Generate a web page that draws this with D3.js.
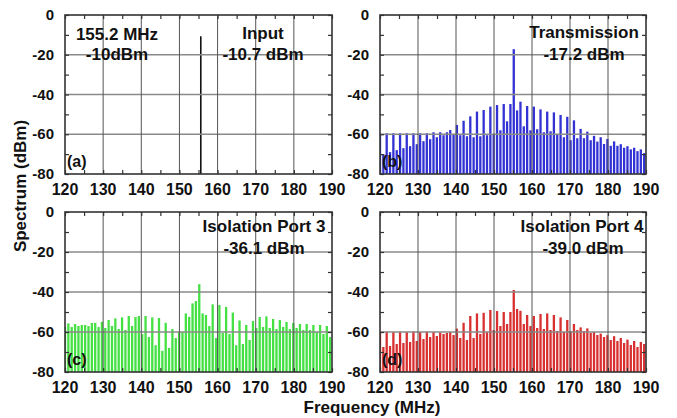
<!DOCTYPE html>
<html>
<head>
<meta charset="utf-8">
<script src="https://cdn.jsdelivr.net/npm/d3@7"></script>
<style>
	body { margin: 0; background: #fff; }
	svg { display: block; }
	text { font-family: Arial, "Liberation Sans", sans-serif; font-weight: bold; fill: #111; }
</style>
</head>
<body>
<svg id="chart" width="677" height="418"></svg>
<script>
	// Comb lines (MHz), shared by the three measured spectra
	var combFreqs = [
		120.00, 120.88, 121.76, 122.64, 123.52, 124.40, 125.28, 126.16, 127.04, 127.92,
		128.80, 129.68, 130.56, 131.44, 132.32, 133.20, 134.08, 134.96, 135.84, 136.72,
		137.60, 138.48, 139.36, 140.24, 141.12, 142.00, 142.88, 143.76, 144.64, 145.52,
		146.40, 147.28, 148.16, 149.04, 149.92, 150.80, 151.68, 152.56, 153.44, 154.32,
		155.20, 156.08, 156.96, 157.84, 158.72, 159.60, 160.48, 161.36, 162.24, 163.12,
		164.00, 164.88, 165.76, 166.64, 167.52, 168.40, 169.28, 170.16, 171.04, 171.92,
		172.80, 173.68, 174.56, 175.44, 176.32, 177.20, 178.08, 178.96, 179.84, 180.72,
		181.60, 182.48, 183.36, 184.24, 185.12, 186.00, 186.88, 187.76, 188.64, 189.52
	];

	// (a) input tone
	var inputFreqs = [155.6];
	var inputLevels = [-10.7];

	// (b) transmission, dBm
	var transmissionLevels = [
		-59.5, -70, -59.5, -69, -59.5, -68, -59.5, -67, -59.5, -66,
		-59.5, -65, -59.5, -63.5, -59.5, -62.5, -59, -61.5, -59, -60.5,
		-59, -57.9, -60, -55.3, -60.5, -53.2, -61, -51, -61.5, -48.6,
		-61, -47.8, -60.5, -46.1, -60, -45.3, -58, -44.8, -53.5, -44.8,
		-17.2, -48, -43.6, -56, -45.8, -58, -46.1, -57.5, -47.5, -59,
		-48.6, -58.5, -49, -60, -50.3, -61.5, -51.2, -63, -53, -62,
		-57.3, -62, -58.7, -63, -60.8, -63.7, -61.5, -64.9, -62.4, -65.8,
		-63.6, -65.8, -65, -66.8, -66, -67.6, -66.8, -68.5, -67.6, -69.5
	];

	// (c) isolation port 3, dBm
	var port3Levels = [
		-57.5, -55.7, -57.5, -56, -57, -56.5, -56.5, -57, -55.5, -55.4,
		-57.5, -54.9, -58, -54, -57, -53.2, -58.5, -52.7, -59, -52,
		-57, -52.5, -52, -61, -52, -62.5, -52.7, -66.6, -53, -69.4,
		-55.4, -68, -58.5, -63, -59.9, -59.9, -50.7, -52.4, -45.7, -44.5,
		-36.1, -50.7, -51.5, -57, -46.2, -63, -46.5, -60.5, -47.5, -61,
		-50.3, -66.6, -54.2, -66, -56.5, -64, -54.5, -58, -52.5, -57.5,
		-52.2, -58, -53.5, -58.5, -54, -57.5, -55, -58.5, -55.5, -58,
		-56, -59, -56, -59, -56.5, -60, -56.5, -61, -57, -62.5
	];

	// (d) isolation port 4, dBm
	var port4Levels = [
		-60, -67.5, -59.8, -67, -60, -66, -59.8, -65.5, -60, -65,
		-59.7, -64.5, -60, -63.5, -59.8, -62.5, -60, -62, -60.2, -61,
		-60.5, -60, -61.5, -58.3, -63, -55.4, -64, -52, -63, -50.7,
		-61, -50.4, -60, -49, -59, -49.5, -57, -50, -56, -50,
		-39, -48.5, -49.4, -56, -51.5, -57, -52, -58, -51, -58.5,
		-50.7, -59, -51.5, -59.5, -52.7, -60, -54, -59.5, -56, -59,
		-57.7, -59.5, -58.2, -60.5, -60, -61.5, -60.8, -62.5, -61.6, -64,
		-62.1, -64.5, -63, -65.5, -63.8, -66.5, -64.5, -67.5, -65, -66
	];

	var freqTicks = [120, 130, 140, 150, 160, 170, 180, 190];
	var freqMinorTicks = [125, 135, 145, 155, 165, 175, 185];
	var levelTicks = [0, -20, -40, -60, -80];
	var levelMinorTicks = [-10, -30, -50, -70];

	var panels = [
		{ left: 65, right: 332, top: 15, bottom: 174, freqs: inputFreqs, levels: inputLevels,
			color: '#111', barWidth: 1.6, tag: '(a)',
			notes: [{ x: 117, y: 40, t: '155.2 MHz' }, { x: 117, y: 60, t: '-10dBm' },
				{ x: 263, y: 39, t: 'Input' }, { x: 263, y: 60, t: '-10.7 dBm' }] },
		{ left: 380, right: 646, top: 15, bottom: 174, freqs: combFreqs, levels: transmissionLevels,
			color: '#3232d4', barWidth: 2.3, tag: '(b)',
			notes: [{ x: 584, y: 38, t: 'Transmission' }, { x: 584, y: 60, t: '-17.2 dBm' }] },
		{ left: 65, right: 332, top: 212, bottom: 372, freqs: combFreqs, levels: port3Levels,
			color: '#44e044', barWidth: 2.3, tag: '(c)',
			notes: [{ x: 264, y: 232, t: 'Isolation Port 3' }, { x: 264, y: 254, t: '-36.1 dBm' }] },
		{ left: 380, right: 646, top: 212, bottom: 372, freqs: combFreqs, levels: port4Levels,
			color: '#d83030', barWidth: 2.3, tag: '(d)',
			notes: [{ x: 582, y: 232, t: 'Isolation Port 4' }, { x: 583, y: 254, t: '-39.0 dBm' }] }
	];

	var svg = d3.select('#chart');

	panels.forEach(function (p, n) {
		var x = d3.scaleLinear().domain([120, 190]).range([p.left, p.right]);
		var y = d3.scaleLinear().domain([-80, 0]).range([p.bottom, p.top]);
		var g = svg.append('g');

		g.append('clipPath').attr('id', 'clip' + n)
			.append('rect').attr('x', p.left).attr('y', p.top)
			.attr('width', p.right - p.left).attr('height', p.bottom - p.top);

		// Spectrum lines, drawn up from the floor of the plot
		g.append('g').attr('clip-path', 'url(#clip' + n + ')')
			.selectAll('rect').data(p.levels).enter().append('rect')
			.attr('x', function (d, i) { return x(p.freqs[i]) - p.barWidth / 2; })
			.attr('y', function (d) { return y(d); })
			.attr('width', p.barWidth)
			.attr('height', function (d) { return y(-80) - y(d); })
			.attr('fill', p.color);

		// Grid sits over the lines, like the original
		g.selectAll('.hgrid').data(levelTicks.slice(1, 4)).enter().append('line')
			.attr('x1', p.left).attr('x2', p.right)
			.attr('y1', y).attr('y2', y)
			.attr('stroke', '#8a8a8a').attr('stroke-width', 1.3);
		g.selectAll('.vgrid').data(freqTicks.slice(1, 7)).enter().append('line')
			.attr('x1', x).attr('x2', x)
			.attr('y1', p.top).attr('y2', p.bottom)
			.attr('stroke', '#555').attr('stroke-width', 1);

		// Inward ticks on all four sides
		var yAxisL = d3.axisLeft(y).tickValues(levelTicks.concat(levelMinorTicks)).tickSize(-4).tickFormat('');
		var yAxisR = d3.axisRight(y).tickValues(levelTicks.concat(levelMinorTicks)).tickSize(-4).tickFormat('');
		var xAxisB = d3.axisBottom(x).tickValues(freqTicks.concat(freqMinorTicks)).tickSize(-4).tickFormat('');
		var xAxisT = d3.axisTop(x).tickValues(freqTicks.concat(freqMinorTicks)).tickSize(-4).tickFormat('');
		[[yAxisL, 'translate(' + p.left + ',0)'], [yAxisR, 'translate(' + p.right + ',0)'],
			[xAxisB, 'translate(0,' + p.bottom + ')'], [xAxisT, 'translate(0,' + p.top + ')']].forEach(function (a) {
			var ax = g.append('g').attr('transform', a[1]).call(a[0]);
			ax.select('.domain').remove();
			ax.selectAll('line').attr('stroke', '#333').attr('stroke-width', 1.2);
		});

		g.append('rect').attr('x', p.left).attr('y', p.top)
			.attr('width', p.right - p.left).attr('height', p.bottom - p.top)
			.attr('fill', 'none').attr('stroke', '#333').attr('stroke-width', 1.6);

		// Tick labels
		g.selectAll('.ylab').data(levelTicks).enter().append('text')
			.attr('x', p.left - 11).attr('y', function (d) { return y(d) + 5; })
			.attr('text-anchor', 'end').style('font-size', '15px')
			.text(function (d) { return d; });
		g.selectAll('.xlab').data(freqTicks).enter().append('text')
			.attr('x', x).attr('y', p.bottom + 21)
			.attr('text-anchor', 'middle').style('font-size', '16px')
			.text(function (d) { return d; });

		g.append('text').attr('x', p.left + 2).attr('y', p.bottom - 7)
			.style('font-size', '16px').text(p.tag);

		g.selectAll('.note').data(p.notes).enter().append('text')
			.attr('x', function (d) { return d.x; }).attr('y', function (d) { return d.y; })
			.attr('text-anchor', 'middle').style('font-size', '17px')
			.text(function (d) { return d.t; });
	});

	svg.append('text').attr('transform', 'translate(26,186) rotate(-90)')
		.attr('text-anchor', 'middle').style('font-size', '17px')
		.text('Spectrum (dBm)');
	svg.append('text').attr('x', 372).attr('y', 413)
		.attr('text-anchor', 'middle').style('font-size', '17px')
		.text('Frequency (MHz)');
</script>
</body>
</html>
